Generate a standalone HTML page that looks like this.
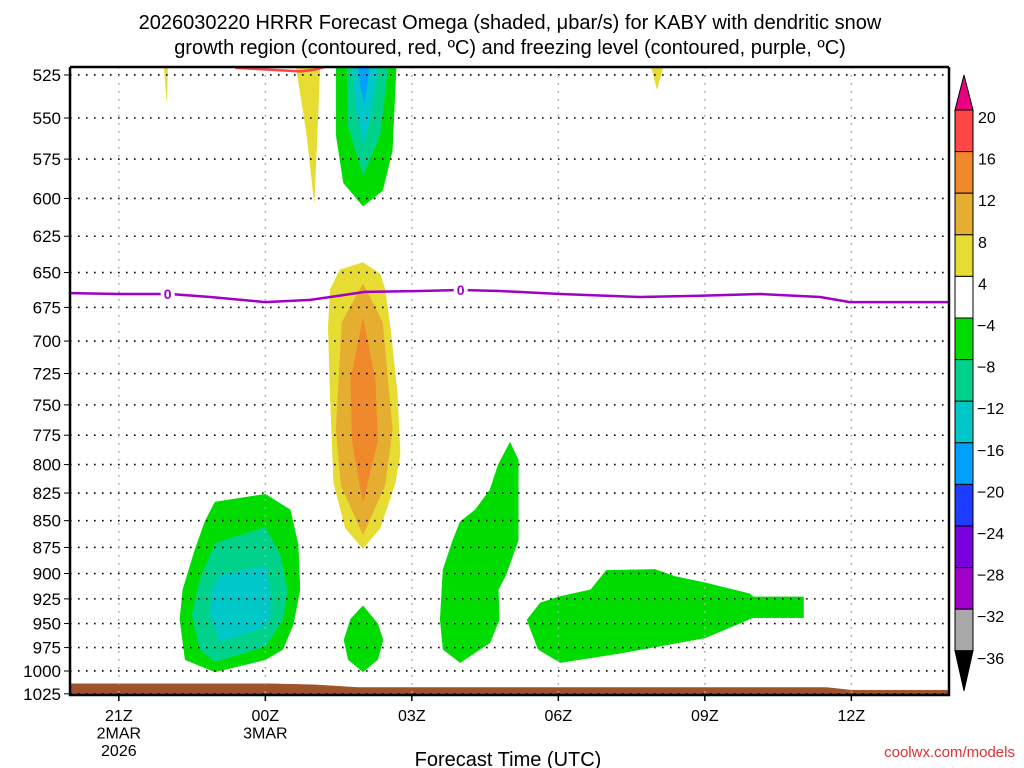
<!DOCTYPE html>
<html><head><meta charset="utf-8"><style>
html,body{margin:0;padding:0;background:#fff;}
svg{display:block;font-family:"Liberation Sans",sans-serif;}
</style></head><body>
<svg id="c" width="1024" height="768" viewBox="0 0 1024 768">
<text x="510" y="29" text-anchor="middle" font-size="20" fill="#000">2026030220 HRRR Forecast Omega (shaded, μbar/s) for KABY with dendritic snow</text>
<text x="510" y="54" text-anchor="middle" font-size="20" fill="#000">growth region (contoured, red, ºC) and freezing level (contoured, purple, ºC)</text>
<g id="fills"></g><g id="grid"></g><g id="lines"></g><g id="axes"></g><g id="cbar"></g>
<text x="508" y="766" text-anchor="middle" font-size="20" fill="#000">Forecast Time (UTC)</text>
<text x="1015" y="757" text-anchor="end" font-size="15" fill="#e03030">coolwx.com/models</text>
</svg>
<script>
// data: hours since 20Z 2 Mar, pressures hPa
const pTicks=[525,550,575,600,625,650,675,700,725,750,775,800,825,850,875,900,925,950,975,1000,1025];
const xTickHours=[1,4,7,10,13,16];
const xTickLabels=[["21Z","2MAR","2026"],["00Z","3MAR"],["03Z"],["06Z"],["09Z"],["12Z"]];
const cbLevels=[20,16,12,8,4,-4,-8,-12,-16,-20,-24,-28,-32,-36];
const cbColors=["#ff4545","#f0882c","#e6ae30","#e6dc32","#ffffff","#00dc00","#00d28c","#00c8c8","#00a0ff","#1e3cff","#7800dc","#a000c8","#a8a8a8"];
const greenTop=[[5.45,520],[6.68,520],[6.6,570],[6.4,595],[6.0,605],[5.6,590],[5.45,560]];
const tealTop=[[5.67,520],[6.51,520],[6.35,560],[6.0,585],[5.7,555]];
const cyanTop=[[5.78,520],[6.31,520],[6.15,550],[6.0,566],[5.85,545]];
const blueTop=[[5.9,520],[6.14,520],[6.03,541],[5.95,532]];
const yellowTop=[[4.63,520],[5.12,520],[5.06,560],[5.0,602],[4.85,560]];
const yellowTiny1=[[1.93,520],[2.0,520],[1.98,540]];
const yellowTiny2=[[11.9,520],[12.15,520],[12.02,533]];
const yellowCol=[[6.0,643],[6.35,651],[6.45,662],[6.56,690],[6.7,740],[6.76,791],[6.66,816],[6.35,857],[6.0,876],[5.64,857],[5.4,816],[5.33,743],[5.29,690],[5.33,662],[5.53,648]];
const goldCol=[[6.0,658],[6.4,686],[6.6,770],[6.45,818],[6.0,863],[5.55,818],[5.45,770],[5.57,686]];
const orangeCol=[[6.0,683],[6.25,730],[6.3,780],[6.0,833],[5.78,780],[5.75,730]];
const greenLeft=[[2.97,833],[4.0,826],[4.51,840],[4.67,872],[4.71,916],[4.57,951],[4.36,977],[4.0,988],[2.97,1001],[2.36,988],[2.25,946],[2.31,916],[2.56,877],[2.77,850]];
const tealLeft=[[2.97,871],[4.0,856],[4.3,882],[4.45,916],[4.36,946],[4.0,974],[2.97,990],[2.66,977],[2.5,941],[2.66,906]];
const cyanLeft=[[3.07,901],[4.0,893],[4.1,916],[4.1,946],[4.0,953],[3.07,969],[2.87,941],[2.91,916]];
const greenSmall=[[6.0,932],[6.3,950],[6.41,967],[6.3,988],[6.0,1001],[5.7,988],[5.61,967],[5.75,945]];
const greenA=[[9.01,781],[9.18,796],[9.18,868],[8.93,901],[8.77,916],[8.79,946],[8.6,970],[7.99,991],[7.64,977],[7.58,946],[7.64,896],[7.84,868],[7.99,851],[8.3,840],[8.6,822],[8.77,800]];
const greenB=[[9.36,946],[9.63,929],[10.0,923],[10.66,916],[10.98,897],[11.98,896],[12.4,903],[13.0,909],[13.93,920],[13.99,923],[15.02,923],[15.02,944],[13.99,944],[13.0,965],[11.27,981],[10.04,991],[9.59,977],[9.43,956]];
const surfaceP=[[0,1014],[4.1,1014],[5.0,1015],[5.9,1018],[15.5,1018],[16.0,1021],[18,1021]];
const freezeLine=[[0,664.6],[1.02,665.3],[2.05,665.3],[2.87,667.4],[4.0,671.1],[4.92,669.5],[5.33,667.4],[6.04,663.8],[7.17,663.1],[7.99,662.4],[8.81,663.1],[10.04,665.3],[11.67,667.4],[12.9,666.5],[14.13,665.3],[15.36,667.4],[15.97,671.1],[18,671.1]];
const freezeLabelHours=[2.0,8.0];
const dgzLine=[[3.38,521],[4.1,522],[4.71,523],[5.02,522],[5.28,520]];

const NS="http://www.w3.org/2000/svg";
const X0=70,X1=949,Y0=67,Y1=695,H0=0,H1=18,P0=520.5,P1=1026.3;
const xs=h=>X0+(h-H0)/(H1-H0)*(X1-X0);
const ys=p=>Y0+(Math.log(p)-Math.log(P0))/(Math.log(P1)-Math.log(P0))*(Y1-Y0);
function mk(tag,attrs,parent){const e=document.createElementNS(NS,tag);for(const k in attrs)e.setAttribute(k,attrs[k]);parent.appendChild(e);return e;}
const fills=document.getElementById('fills'),grid=document.getElementById('grid'),lines=document.getElementById('lines'),axes=document.getElementById('axes'),cbar=document.getElementById('cbar');
const clip=mk('clipPath',{id:'pc'},document.getElementById('c'));mk('rect',{x:X0,y:Y0,width:X1-X0,height:Y1-Y0},clip);
fills.setAttribute('clip-path','url(#pc)');lines.setAttribute('clip-path','url(#pc)');
const pts=a=>a.map(d=>xs(d[0]).toFixed(1)+','+ys(d[1]).toFixed(1)).join(' ');
function poly(a,col,name){const e=mk('polygon',{points:pts(a),fill:col,stroke:col,'stroke-width':0.5,'stroke-linejoin':'round'},fills);

}
poly(greenTop,'#00dc00','omega-green-upper');poly(tealTop,'#00d28c','omega-teal-upper');poly(cyanTop,'#00c8c8','omega-cyan-upper');poly(blueTop,'#00a0ff','omega-blue-upper');
poly(yellowTop,'#e6dc32','omega-yellow-upper');poly(yellowTiny1,'#e6dc32','omega-yellow-tiny-1');poly(yellowTiny2,'#e6dc32','omega-yellow-tiny-2');
poly(yellowCol,'#e6dc32','omega-yellow-column');poly(goldCol,'#e6ae30','omega-gold-column');poly(orangeCol,'#f0882c','omega-orange-column');
poly(greenLeft,'#00dc00','omega-green-left');poly(tealLeft,'#00d28c','omega-teal-left');poly(cyanLeft,'#00c8c8','omega-cyan-left');
poly(greenSmall,'#00dc00','omega-green-small');poly(greenA,'#00dc00','omega-green-mid');poly(greenB,'#00dc00','omega-green-right');
const g=surfaceP.map(d=>[d[0],d[1]]).concat([[18,1100],[0,1100]]);poly(g,'#a0522d','ground-surface');
pTicks.forEach(p=>{const l=mk('line',{x1:X0,x2:X1,y1:ys(p),y2:ys(p),stroke:'#000','stroke-width':1.6,'stroke-dasharray':'1.6 6.4'},grid);

});
xTickHours.forEach(h=>{const l=mk('line',{x1:xs(h),x2:xs(h),y1:Y0,y2:Y1,stroke:'#aaa','stroke-width':1.6,'stroke-dasharray':'1.6 6.4'},grid);

});
const fz=mk('polyline',{points:pts(freezeLine),fill:'none',stroke:'#a000c8','stroke-width':2.5,'stroke-linejoin':'round'},lines);


freezeLabelHours.forEach(h=>{let p=freezeLine[0][1];for(let i=1;i<freezeLine.length;i++){if(freezeLine[i][0]>=h){const a=freezeLine[i-1],b=freezeLine[i];p=a[1]+(b[1]-a[1])*(h-a[0])/(b[0]-a[0]);break;}}
mk('rect',{x:xs(h)-7,y:ys(p)-8,width:14,height:16,fill:'#fff'},lines);
const t=mk('text',{x:xs(h),y:ys(p)+5,'text-anchor':'middle','font-size':14,'font-weight':'bold',fill:'#a000c8'},lines);t.textContent='0';

});
const dg=mk('polyline',{points:pts(dgzLine),fill:'none',stroke:'#ff4545','stroke-width':2.5},lines);


const fr=mk('path',{d:`M${X0},${Y0}V${Y1}H${X1}V${Y0}`,fill:'none',stroke:'#000','stroke-width':2.5},axes);


mk('line',{x1:X0,x2:X1,y1:Y0,y2:Y0,stroke:'#000','stroke-width':2.5},axes);
pTicks.forEach(p=>{mk('line',{x1:X0-6,x2:X0,y1:ys(p),y2:ys(p),stroke:'#000','stroke-width':1},axes);
const t=mk('text',{x:X0-9,y:ys(p)+6,'text-anchor':'end','font-size':17,fill:'#000'},axes);t.textContent=p;

});
xTickHours.forEach((h,i)=>{mk('line',{x1:xs(h),x2:xs(h),y1:Y1,y2:Y1+6,stroke:'#000','stroke-width':1.5},axes);
xTickLabels[i].forEach((s,j)=>{const t=mk('text',{x:xs(h),y:Y1+26+j*17.5,'text-anchor':'middle','font-size':16,fill:'#000'},axes);t.textContent=s;

});});
const CX=955,CW=18,CT=110,CS=41.6;
cbColors.forEach((c,i)=>{const r=mk('rect',{x:CX,y:CT+i*CS,width:CW,height:CS,fill:c,stroke:'#000','stroke-width':1},cbar);

});
const cb=CT+cbColors.length*CS;
const tu=mk('polygon',{points:`${CX},${CT} ${CX+CW},${CT} ${CX+CW/2},${CT-35}`,fill:'#e8007f',stroke:'#000','stroke-width':1},cbar);


const td=mk('polygon',{points:`${CX},${cb} ${CX+CW},${cb} ${CX+CW/2},${cb+40}`,fill:'#000',stroke:'#000','stroke-width':1},cbar);


cbLevels.forEach((v,i)=>{const t=mk('text',{x:v<0?CX+22:CX+23,y:CT+i*CS+13,'font-size':16,fill:'#000'},cbar);t.textContent=(v<0?'\u2212'+(-v):v);

});
</script>
</body></html>
